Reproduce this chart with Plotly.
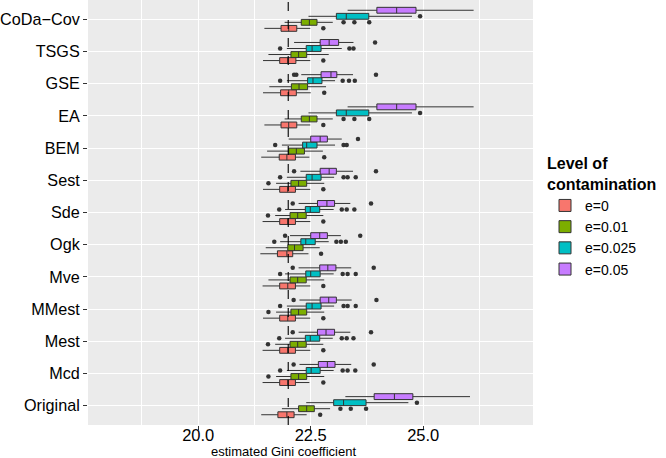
import plotly.graph_objects as go

# Categories, top to bottom as shown
categories = ["CoDa−Cov", "TSGS", "GSE", "EA", "BEM", "Sest", "Sde", "Ogk",
              "Mve", "MMest", "Mest", "Mcd", "Original"]
levels = ["e=0", "e=0.01", "e=0.025", "e=0.05"]
colors = ["#F8766D", "#7CAE00", "#00BFC4", "#C77CFF"]
reference_gini = 22.0
x_ticks = [20.0, 22.5, 25.0]
x_minor = [18.75, 21.25, 23.75, 26.25]

# e=0
e0_lo  = [21.47, 21.44, 21.44, 21.47, 21.40, 21.44, 21.43, 21.38, 21.43, 21.44, 21.43, 21.43, 21.40]
e0_q1  = [21.84, 21.81, 21.83, 21.84, 21.80, 21.81, 21.81, 21.76, 21.81, 21.81, 21.81, 21.81, 21.77]
e0_med = [22.01, 21.99, 22.01, 22.01, 21.97, 21.99, 21.99, 21.97, 21.99, 21.99, 21.99, 21.99, 21.97]
e0_q3  = [22.19, 22.17, 22.18, 22.19, 22.16, 22.16, 22.16, 22.10, 22.16, 22.16, 22.16, 22.16, 22.13]
e0_hi  = [22.49, 22.49, 22.50, 22.49, 22.47, 22.49, 22.49, 22.45, 22.49, 22.49, 22.49, 22.47, 22.41]
e0_out = [[22.78], [22.78], [22.80], [22.78], [22.80], [22.78], [22.78], [22.73],
          [22.78], [22.78], [22.78], [22.78], [22.71]]

# e=0.01
e1_lo  = [21.92, 21.56, 21.58, 21.92, 21.53, 21.73, 21.71, 21.50, 21.56, 21.73, 21.71, 21.73, 21.86]
e1_q1  = [22.29, 22.06, 22.07, 22.29, 22.01, 22.06, 22.04, 21.99, 22.04, 22.06, 22.04, 22.06, 22.23]
e1_med = [22.47, 22.23, 22.24, 22.47, 22.18, 22.23, 22.21, 22.14, 22.21, 22.23, 22.21, 22.23, 22.41]
e1_q3  = [22.64, 22.41, 22.43, 22.64, 22.36, 22.41, 22.40, 22.33, 22.40, 22.41, 22.40, 22.41, 22.58]
e1_hi  = [22.99, 22.90, 22.84, 22.99, 22.77, 22.80, 22.78, 22.70, 22.80, 22.80, 22.78, 22.80, 22.93]
e1_out = [[23.23, 23.47, 23.80], [], [], [23.23, 23.47, 23.80], [], [21.56], [21.55], [],
          [], [21.56], [21.55], [21.56], [23.16, 23.39, 23.73]]

# e=0.025
e2_lo  = [22.45, 21.97, 21.97, 22.45, 21.86, 21.97, 21.93, 21.82, 21.93, 21.97, 21.93, 21.97, 22.40]
e2_q1  = [23.07, 22.40, 22.43, 23.07, 22.32, 22.40, 22.38, 22.28, 22.39, 22.40, 22.38, 22.40, 23.01]
e2_med = [23.29, 22.53, 22.55, 23.29, 22.41, 22.53, 22.49, 22.39, 22.50, 22.53, 22.49, 22.51, 23.23]
e2_q3  = [23.79, 22.73, 22.75, 23.79, 22.64, 22.73, 22.70, 22.60, 22.71, 22.73, 22.70, 22.71, 23.73]
e2_hi  = [24.75, 23.19, 23.04, 24.75, 23.04, 23.02, 23.01, 22.90, 23.01, 23.02, 22.99, 23.01, 24.67]
e2_out = [[24.93], [21.82, 23.36, 23.45], [21.82, 23.21, 23.35, 23.48], [24.93],
          [21.71, 23.23, 23.30], [21.82, 23.23, 23.32, 23.50], [21.80, 23.19, 23.30, 23.47],
          [21.69, 23.07, 23.17, 23.28], [21.82, 23.21, 23.32, 23.50], [21.82, 23.23, 23.32, 23.50],
          [21.80, 23.19, 23.30, 23.45], [21.82, 23.21, 23.32, 23.49], [24.86]]

# e=0.05
e3_lo  = [23.32, 22.13, 22.29, 23.32, 22.01, 22.27, 22.23, 22.04, 22.23, 22.25, 22.23, 22.25, 23.27]
e3_q1  = [23.97, 22.71, 22.73, 23.97, 22.50, 22.71, 22.65, 22.50, 22.70, 22.71, 22.65, 22.67, 23.91]
e3_med = [24.41, 22.91, 22.95, 24.41, 22.71, 22.91, 22.86, 22.70, 22.88, 22.90, 22.84, 22.87, 24.36]
e3_q3  = [24.84, 23.12, 23.08, 24.84, 22.87, 23.07, 23.03, 22.87, 23.06, 23.07, 23.03, 23.04, 24.77]
e3_hi  = [26.12, 23.45, 23.44, 26.12, 23.19, 23.44, 23.38, 23.17, 23.40, 23.41, 23.38, 23.40, 26.04]
e3_out = [[], [23.93], [22.13, 22.18, 23.95], [], [23.55], [22.13, 23.95], [22.10, 23.84],
          [21.93, 23.60], [22.10, 23.90], [22.12, 23.96], [22.10, 23.84], [22.12, 23.90], []]

series = [
    (e0_lo, e0_q1, e0_med, e0_q3, e0_hi, e0_out),
    (e1_lo, e1_q1, e1_med, e1_q3, e1_hi, e1_out),
    (e2_lo, e2_q1, e2_med, e2_q3, e2_hi, e2_out),
    (e3_lo, e3_q1, e3_med, e3_q3, e3_hi, e3_out),
]

FONT = "Liberation Sans, Arial, Helvetica, sans-serif"
n_cat = len(categories)
base_pos = [n_cat - i for i in range(n_cat)]  # top category at highest y
dodge_w = 0.75
n_lev = len(levels)
box_w = dodge_w / n_lev

# plot-area geometry in pixels
W, H = 666, 458
ML, MR, MT, MB = 88, 133, 0, 33
PW, PH = W - ML - MR, H - MT - MB

fig = go.Figure()
for k, (lo, q1, med, q3, hi, out) in enumerate(series):
    off = -dodge_w / 2 + box_w * (k + 0.5)
    pos = [p + off for p in base_pos]
    fig.add_trace(go.Box(
        y=pos, q1=q1, median=med, q3=q3, lowerfence=lo, upperfence=hi,
        orientation="h", name=levels[k], width=box_w * 0.97,
        fillcolor=colors[k], line=dict(color="#333333", width=1),
        whiskerwidth=0, boxpoints=False, legendgroup=levels[k],
    ))
    ox, oy = [], []
    for p, vals in zip(pos, out):
        for v in vals:
            ox.append(v)
            oy.append(p)
    fig.add_trace(go.Scatter(
        x=ox, y=oy, mode="markers", showlegend=False, legendgroup=levels[k],
        marker=dict(color="#333333", size=4.5, line=dict(width=0)),
        hoverinfo="skip",
    ))

fig.add_shape(type="line", xref="x", yref="paper", x0=reference_gini, x1=reference_gini,
              y0=0, y1=1, line=dict(color="black", width=1.1, dash="dash"), layer="above")

fig.add_annotation(text="estimated Gini coefficient", xref="paper", yref="paper",
                   x=(283.5 - ML) / PW, y=(PH - 451.5) / PH, showarrow=False,
                   xanchor="center", yanchor="middle",
                   font=dict(family=FONT, size=13, color="black"))

fig.update_layout(
    width=W, height=H,
    margin=dict(l=ML, r=MR, t=MT, b=MB, autoexpand=False),
    paper_bgcolor="white", plot_bgcolor="#EBEBEB",
    font=dict(family=FONT, color="black"),
    showlegend=True,
    legend=dict(
        title=dict(text="<b>Level of<br>contamination</b>", font=dict(size=16, family=FONT)),
        font=dict(size=14, family=FONT, color="black"),
        x=(545 - ML) / PW, xanchor="left", y=0.49, yanchor="middle",
        bgcolor="rgba(0,0,0,0)", borderwidth=0, itemwidth=30,
        tracegroupgap=0,
    ),
    xaxis=dict(
        range=[17.55, 27.44], tickvals=x_ticks, ticktext=[f"{v:.1f}" for v in x_ticks],
        showgrid=True, gridcolor="white", gridwidth=1.1, zeroline=False,
        ticks="outside", ticklen=4, tickcolor="#333333", tickwidth=1,
        tickfont=dict(size=16.5, color="black", family=FONT),
        ticklabelstandoff=-9,
        minor=dict(tickvals=x_minor, showgrid=True, gridcolor="white", gridwidth=0.5, ticks=""),
        showline=False, automargin=False,
    ),
    yaxis=dict(
        range=[0.4, n_cat + 0.6], tickvals=base_pos, ticktext=categories,
        showgrid=True, gridcolor="white", gridwidth=1.1, zeroline=False,
        ticks="outside", ticklen=4, tickcolor="#333333", tickwidth=1,
        tickfont=dict(size=16.2, color="black", family=FONT),
        showline=False, automargin=False,
    ),
)

fig.write_html("out.html", config={"displayModeBar": False},
               post_script="document.body.style.margin='0';")
